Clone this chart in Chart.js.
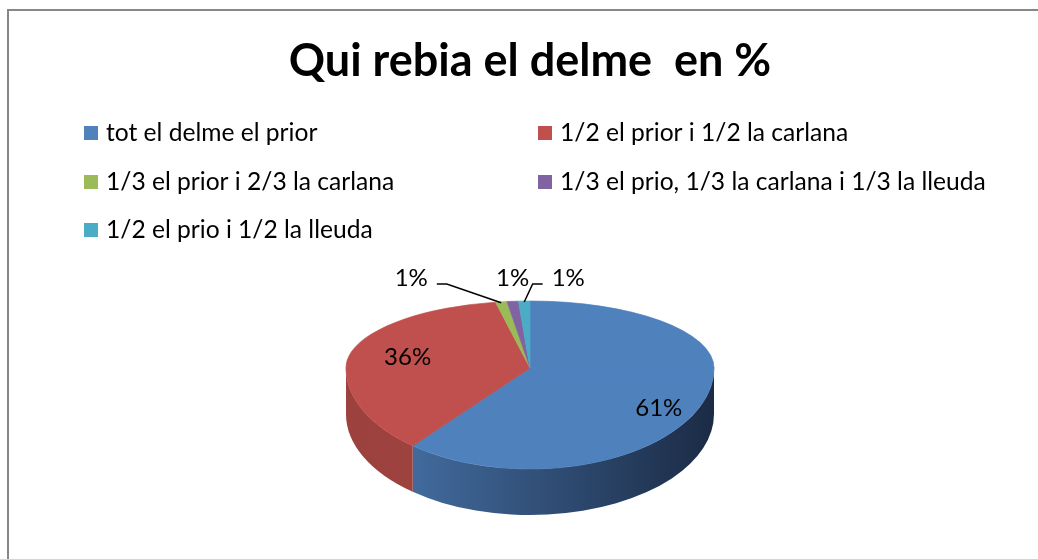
<!DOCTYPE html>
<html><head><meta charset="utf-8">
<script src="https://cdn.jsdelivr.net/npm/chart.js@4.4.1/dist/chart.umd.min.js"></script>
<style>html,body{margin:0;padding:0;background:#fff}canvas{display:block}</style>
</head><body>
<canvas id="c" width="1038" height="559"></canvas>
<script>
// ---- data ----
const titleText = 'Qui rebia el delme  en %';
const categories = [
  'tot el delme el prior',
  '1/2 el prior i 1/2 la carlana',
  '1/3 el prior i 2/3 la carlana',
  '1/3 el prio, 1/3 la carlana i 1/3 la lleuda',
  '1/2 el prio i 1/2 la lleuda'
];
const percentages = [61, 36, 1, 1, 1];

// ---- styles / layout ----
const sliceColors = ['#4f81bd', '#c0504d', '#9bbb59', '#8064a2', '#4bacc6'];
const wallLeft  = ['#4a78b0', '#9c413e', '#7f9a48', '#6a5287', '#3d8ea4'];
const wallRight = ['#1b2b45', '#a9483f', '#5e7235', '#4b3b63', '#2b6677'];
const W = 1038, H = 559;
// apex (disc centre as seen), back / front half vertical radii (perspective look)
const PIE = { cx: 530, apex: 368, rx: 184, ryBack: 67, ryFront: 101, depth: 46 };
const FONT = 'Lato, "Open Sans", sans-serif';
const legendCols = [84, 538];
const legendRows = [133, 182, 230];
const smallLabelDx = [-90, 0, 44];
const smallLabelLine = [true, false, true];

const frameAndLegend = {
  id: 'frameAndLegend',
  beforeDraw(chart) {
    const ctx = chart.ctx;
    ctx.save();
    ctx.fillStyle = '#fff';
    ctx.fillRect(0, 0, W, H);
    ctx.strokeStyle = '#878787';
    ctx.lineWidth = 2;
    ctx.beginPath();
    ctx.moveTo(8, H + 2);
    ctx.lineTo(8, 10);
    ctx.lineTo(W + 2, 10);
    ctx.stroke();
    ctx.restore();
  },
  afterDraw(chart) {
    const ctx = chart.ctx;
    ctx.save();
    ctx.font = '24.6px ' + FONT;
    ctx.textBaseline = 'middle';
    ctx.textAlign = 'left';
    categories.forEach((lab, i) => {
      const x = legendCols[i % 2];
      const y = legendRows[Math.floor(i / 2)];
      ctx.fillStyle = sliceColors[i];
      ctx.fillRect(x, y - 7, 14, 14);
      ctx.fillStyle = '#000';
      ctx.fillText(lab, x + 22, y);
    });
    ctx.restore();
  }
};

function setHalf(ctx, el, front) {
  ctx.beginPath();
  if (front) ctx.rect(0, PIE.apex - 0.5, W, H);
  else ctx.rect(0, 0, W, PIE.apex + 0.5);
  ctx.clip();
  ctx.translate(0, PIE.apex);
  ctx.scale(1, (front ? PIE.ryFront : PIE.ryBack) / el.outerRadius);
  ctx.translate(0, -el.y);
}

const pie3d = {
  id: 'pie3d',
  beforeDatasetsDraw(chart) {
    const ctx = chart.ctx;
    const meta = chart.getDatasetMeta(0);
    // side walls (front half only)
    meta.data.forEach((el, i) => {
      const a = Math.max(el.startAngle, 0);
      const b = Math.min(el.endAngle, Math.PI);
      if (b <= a) return;
      const g = ctx.createLinearGradient(PIE.cx - PIE.rx, 0, PIE.cx + PIE.rx, 0);
      g.addColorStop(0, wallLeft[i]);
      g.addColorStop(1, wallRight[i]);
      ctx.save();
      ctx.fillStyle = g;
      ctx.beginPath();
      ctx.ellipse(PIE.cx, PIE.apex, PIE.rx, PIE.ryFront, 0, a, b, false);
      ctx.ellipse(PIE.cx, PIE.apex + PIE.depth, PIE.rx, PIE.ryFront, 0, b, a, true);
      ctx.closePath();
      ctx.fill();
      ctx.restore();
    });
    ctx.save();
    setHalf(ctx, meta.data[0], true);
  },
  afterDatasetsDraw(chart) {
    const ctx = chart.ctx;
    ctx.restore();
    const meta = chart.getDatasetMeta(0);
    // back half of the top face, drawn again by the controller
    ctx.save();
    setHalf(ctx, meta.data[0], false);
    meta.controller.draw();
    ctx.restore();

    ctx.save();
    ctx.font = '24px ' + FONT;
    ctx.fillStyle = '#000';
    ctx.textBaseline = 'middle';
    ctx.textAlign = 'center';
    let k = 0;
    meta.data.forEach((el, i) => {
      const txt = percentages[i] + '%';
      const mid = (el.startAngle + el.endAngle) / 2;
      if (percentages[i] >= 5) {
        const x = PIE.cx + 5 + PIE.rx * 0.715 * Math.cos(mid);
        const y = PIE.apex + 11 + 86.5 * Math.sin(mid);
        ctx.fillText(txt, x, y);
      } else {
        const ax = PIE.cx + PIE.rx * Math.cos(mid);
        const ay = PIE.apex + PIE.ryBack * Math.sin(mid);
        const lx = ax + smallLabelDx[k];
        const ly = PIE.apex - PIE.ryBack - 23;
        ctx.fillText(txt, lx, ly);
        if (smallLabelLine[k]) {
          const tw = ctx.measureText(txt).width;
          const dir = smallLabelDx[k] < 0 ? 1 : -1;
          const sx = lx + dir * (tw / 2 + 9);
          ctx.strokeStyle = '#000';
          ctx.lineWidth = 1.5;
          ctx.beginPath();
          ctx.moveTo(sx, ly + 6);
          ctx.lineTo(sx + dir * 10, ly + 6);
          ctx.lineTo(ax, ay + 1);
          ctx.stroke();
        }
        k++;
      }
    });
    ctx.restore();
  }
};

new Chart(document.getElementById('c'), {
  type: 'pie',
  data: {
    labels: categories,
    datasets: [{
      data: percentages,
      backgroundColor: sliceColors,
      borderColor: sliceColors,
      borderWidth: 1,
      clip: false
    }]
  },
  options: {
    responsive: false,
    animation: false,
    events: [],
    radius: PIE.rx,
    layout: { padding: { left: Math.max(0, 2 * PIE.cx - W), right: Math.max(0, W - 2 * PIE.cx) } },
    plugins: {
      legend: { display: false },
      tooltip: { enabled: false },
      title: {
        display: true,
        text: titleText,
        color: '#000',
        font: { family: FONT, size: 45, weight: 'bold' },
        padding: { top: 34, bottom: 10 }
      }
    }
  },
  plugins: [frameAndLegend, pie3d]
});
</script>
</body></html>
